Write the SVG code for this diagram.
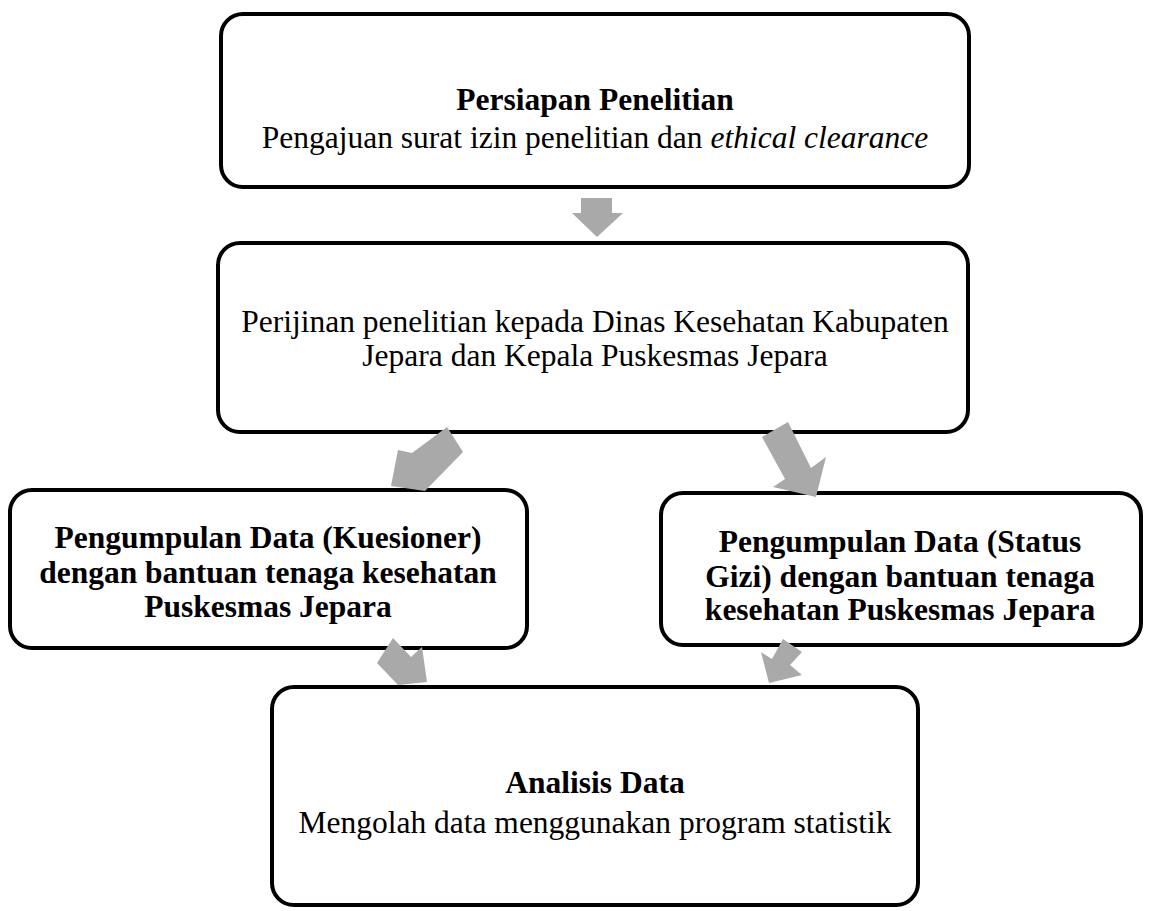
<svg xmlns="http://www.w3.org/2000/svg" width="1155" height="911" viewBox="0 0 1155 911">
<style>
.box{fill:#fff;stroke:#000;stroke-width:4}
.t{font-family:"Liberation Serif","Times New Roman",serif;font-size:31.5px;fill:#000;text-anchor:middle}
.b{font-weight:bold}
.arr{fill:#a9a9a9;stroke:none}
</style>
<rect width="1155" height="911" fill="#fff"/>
<g id="node1">
<rect class="box" x="221" y="14" width="748" height="173" rx="22"/>
<text class="t b" x="595" y="110">Persiapan Penelitian</text>
<text class="t" x="595" y="148">Pengajuan surat izin penelitian dan <tspan font-style="italic">ethical clearance</tspan></text>
</g>
<g id="node2">
<rect class="box" x="218" y="243" width="750" height="189" rx="22"/>
<text class="t" x="595" y="332">Perijinan penelitian kepada Dinas Kesehatan Kabupaten</text>
<text class="t" x="595" y="366">Jepara dan Kepala Puskesmas Jepara</text>
</g>
<g id="node3">
<rect class="box" x="10" y="490" width="517" height="158" rx="22"/>
<text class="t b" x="268" y="548">Pengumpulan Data (Kuesioner)</text>
<text class="t b" x="268" y="583">dengan bantuan tenaga kesehatan</text>
<text class="t b" x="268" y="617">Puskesmas Jepara</text>
</g>
<g id="node4">
<rect class="box" x="661" y="493" width="480" height="152" rx="22"/>
<text class="t b" x="900" y="552">Pengumpulan Data (Status</text>
<text class="t b" x="900" y="587">Gizi) dengan bantuan tenaga</text>
<text class="t b" x="900" y="620">kesehatan Puskesmas Jepara</text>
</g>
<g id="node5">
<rect class="box" x="272" y="687" width="646" height="218" rx="22"/>
<text class="t b" x="595" y="793">Analisis Data</text>
<text class="t" x="595" y="833">Mengolah data menggunakan program statistik</text>
</g>
<g id="connectors">
<polygon class="arr" points="581,198 612,198 612,213 623,213 597,237 572,213 581,213"/>
<polygon class="arr" points="447,427 463,452 425,491 391,486 398,450 412,453"/>
<polygon class="arr" points="762,437 788,422 811,468 826,457 816,497 773,487 785,479"/>
<polygon class="arr" points="393,638 377,663 398,685 427,682 422,647 411,657"/>
<polygon class="arr" points="783,639 802,652 790,665 802,675 769,683 761,652 772,659"/>
</g>
</svg>
